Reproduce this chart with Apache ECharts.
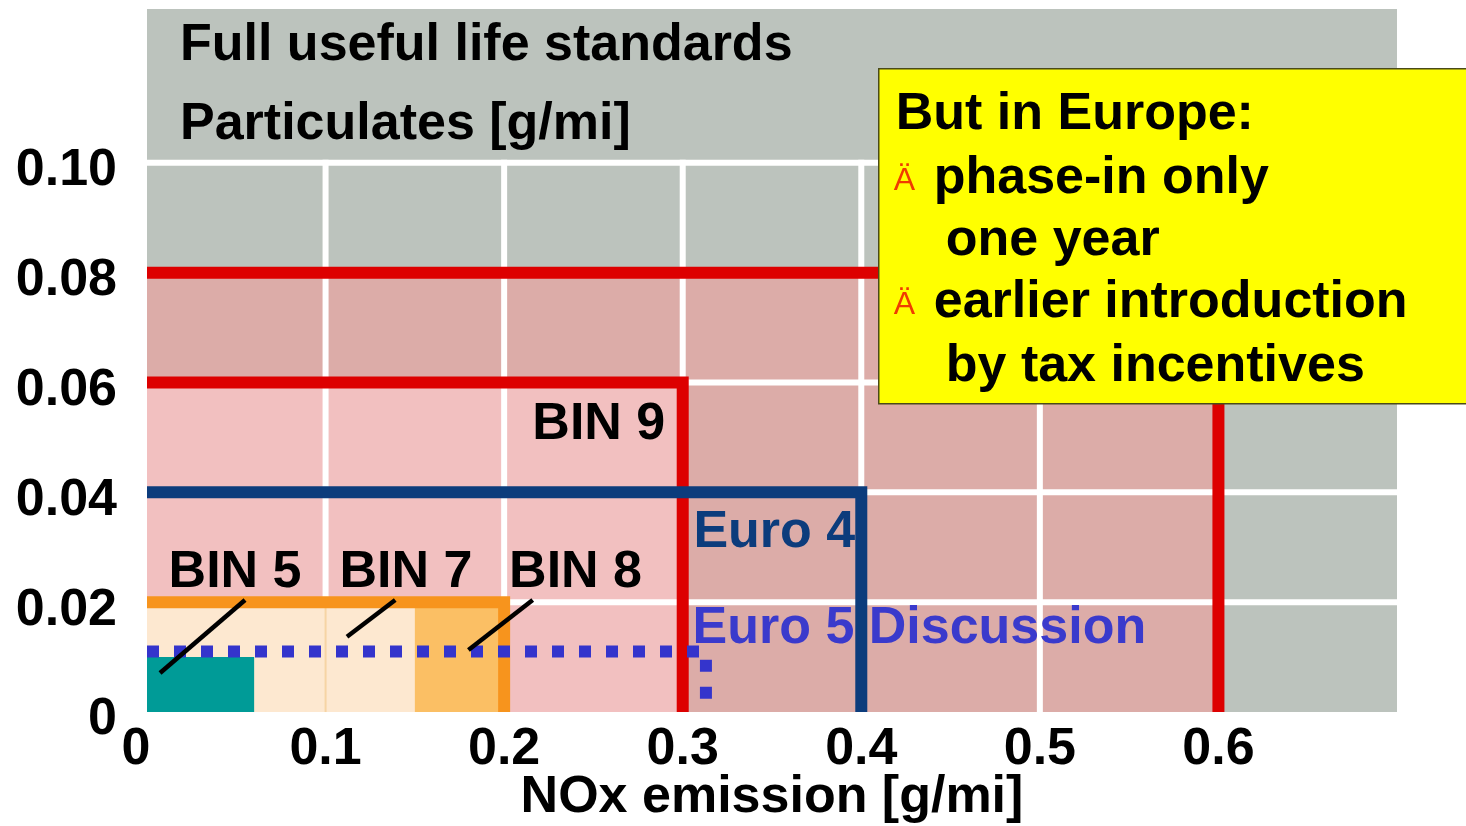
<!DOCTYPE html>
<html>
<head>
<meta charset="utf-8">
<script src="https://cdn.jsdelivr.net/npm/echarts@6/dist/echarts.min.js"></script>
<style>
  html, body { margin: 0; padding: 0; background: #ffffff; }
  #chart { width: 1466px; height: 826px; }
</style>
</head>
<body>
<div id="chart"></div>
<script>
// Axis ticks (NOx on x, particulates on y)
const noxTicks = [0, 0.1, 0.2, 0.3, 0.4, 0.5, 0.6, 0.7];
const pmTicks = [0, 0.02, 0.04, 0.06, 0.08, 0.10];

// US Tier 2 bins: full useful life limits [g/mi]
const binNames = ['BIN 10', 'BIN 9', 'BIN 8', 'BIN 7', 'BIN 5'];
const binNox = [0.6, 0.3, 0.2, 0.15, 0.06];
const binPm = [0.08, 0.06, 0.02, 0.02, 0.01];

// European limits [g/mi]
const euroNames = ['Euro 4', 'Euro 5 Discussion'];
const euroNox = [0.4, 0.313];
const euroPm = [0.04, 0.011];

const FONT = '"Liberation Sans", Arial, Helvetica, sans-serif';
const FS = 52;

const limits = {};
binNames.forEach((n, i) => { limits[n] = [binNox[i], binPm[i]]; });
euroNames.forEach((n, i) => { limits[n] = [euroNox[i], euroPm[i]]; });

// Area fills, drawn back to front
const fillColor = {
  'BIN 10': '#dcaca8',
  'BIN 9': '#f2c0c0',
  'BIN 8': '#fbbf64',
  'BIN 7': '#fde8d0',
  'BIN 5': '#009b97'
};
const backFills = ['BIN 10', 'BIN 9'];
const frontFills = ['BIN 8', 'BIN 7', 'BIN 5'];

// Outlined limit boxes
const outlines = [
  { name: 'BIN 10', color: '#dd0000', type: 'solid' },
  { name: 'BIN 9', color: '#dd0000', type: 'solid' },
  { name: 'BIN 8', color: '#f7941d', type: 'solid' },
  { name: 'Euro 4', color: '#0c3c7c', type: 'solid' },
  { name: 'Euro 5 Discussion', color: '#3434cc', type: [12, 15] }
];

// Text annotations placed in data space
const annotations = [
  { text: 'BIN 5', at: [0.0493, 0.0259], color: '#000000' },
  { text: 'BIN 7', at: [0.1450, 0.0259], color: '#000000' },
  { text: 'BIN 8', at: [0.2400, 0.0259], color: '#000000' },
  { text: 'BIN 9', at: [0.2530, 0.0528], color: '#000000' },
  { text: 'Euro 4', at: [0.3513, 0.0332], color: '#0c3c7c' },
  { text: 'Euro 5 Discussion', at: [0.4325, 0.0157], color: '#3a3acc' }
];
// Leader lines from labels to the small bins
const leaders = [
  [[0.0549, 0.0204], [0.0073, 0.0071]],
  [[0.1390, 0.0204], [0.1120, 0.0137]],
  [[0.2160, 0.0204], [0.1800, 0.0113]]
];

function rectSeries(names, z) {
  return {
    type: 'custom',
    z: z,
    silent: true,
    clip: true,
    data: names.map(n => ({ value: limits[n], itemStyle: { color: fillColor[n] } })),
    renderItem: function (params, api) {
      const p0 = api.coord([0, 0]);
      const p1 = api.coord([api.value(0), api.value(1)]);
      return {
        type: 'rect',
        shape: { x: p0[0], y: p1[1], width: p1[0] - p0[0], height: p0[1] - p1[1] },
        style: { fill: api.visual('color') }
      };
    }
  };
}

const xMax = noxTicks[noxTicks.length - 1];
const yTop = pmTicks[pmTicks.length - 1];

const series = [];
series.push(rectSeries(backFills, 1));

// White grid: vertical lines
series.push({
  type: 'custom', z: 2, silent: true,
  data: noxTicks.slice(1, -1).map(v => [v, 0]),
  renderItem: function (params, api) {
    const a = api.coord([api.value(0), 0]);
    const b = api.coord([api.value(0), yTop]);
    return { type: 'line', shape: { x1: a[0], y1: a[1], x2: b[0], y2: b[1] - 3 },
      style: { stroke: '#ffffff', lineWidth: 6 } };
  }
});
// White grid: horizontal lines
series.push({
  type: 'custom', z: 2, silent: true,
  data: pmTicks.slice(1).map(v => [0, v]),
  renderItem: function (params, api) {
    const a = api.coord([0, api.value(1)]);
    const b = api.coord([xMax, api.value(1)]);
    return { type: 'line', shape: { x1: a[0], y1: a[1], x2: b[0], y2: b[1] },
      style: { stroke: '#ffffff', lineWidth: 6 } };
  }
});

series.push(rectSeries(frontFills, 3));

// Faint trace of the 0.1 grid line inside the BIN 7 area
series.push({
  type: 'custom', z: 3.5, silent: true,
  data: [[noxTicks[1], limits['BIN 7'][1]]],
  renderItem: function (params, api) {
    const a = api.coord([api.value(0), 0]);
    const b = api.coord([api.value(0), api.value(1)]);
    return { type: 'line', shape: { x1: a[0], y1: a[1], x2: b[0], y2: b[1] },
      style: { stroke: '#f6d4a4', lineWidth: 2 } };
  }
});

outlines.forEach((o, i) => {
  const lim = limits[o.name];
  series.push({
    type: 'line',
    name: o.name,
    z: 4 + i,
    silent: true,
    showSymbol: false,
    symbol: 'none',
    data: [[0, lim[1]], [lim[0], lim[1]], [lim[0], 0]],
    lineStyle: { color: o.color, width: 12, type: o.type, cap: 'butt', join: 'miter' }
  });
});

leaders.forEach(seg => {
  series.push({
    type: 'line', z: 12, silent: true, showSymbol: false, symbol: 'none',
    data: seg,
    lineStyle: { color: '#000000', width: 4.5, cap: 'butt' }
  });
});

series.push({
  type: 'custom', z: 13, silent: true, clip: false,
  data: annotations.map(a => a.at),
  renderItem: function (params, api) {
    const a = annotations[params.dataIndex];
    const p = api.coord([api.value(0), api.value(1)]);
    return {
      type: 'text', x: p[0], y: p[1] + 3,
      style: {
        text: a.text, fill: a.color,
        font: 'bold ' + FS + 'px ' + FONT,
        align: 'center', verticalAlign: 'middle'
      }
    };
  }
});

const boxFont = 'bold ' + FS + 'px ' + FONT;
const boxText = (x, y, t) => ({ type: 'text', x: x, y: y, z: 101,
  style: { text: t, fill: '#000000', font: boxFont, verticalAlign: 'middle' } });
const bullet = (x, y) => ({ type: 'text', x: x, y: y, z: 101,
  style: { text: 'Ä', fill: '#f03c00', font: '32px ' + FONT, verticalAlign: 'middle' } });

const labelRich = { fontFamily: FONT, fontWeight: 'bold', fontSize: FS, color: '#000' };

const option = {
  animation: false,
  backgroundColor: '#ffffff',
  grid: {
    left: 147, right: 69, top: 9, bottom: 114,
    outerBoundsMode: 'none',
    containLabel: false,
    show: true, backgroundColor: '#bcc3bd', borderWidth: 0
  },
  xAxis: {
    type: 'value', min: 0, max: xMax, interval: 0.1,
    axisLine: { show: false }, axisTick: { show: false }, splitLine: { show: false },
    axisLabel: {
      color: '#000000', fontFamily: FONT, fontWeight: 'bold', fontSize: FS, margin: 12,
      formatter: function (v) {
        if (v > 0.65) return '';
        if (v === 0) return '{z|0}';
        return v.toFixed(1);
      },
      rich: { z: Object.assign({ padding: [0, 22, 0, 0] }, labelRich) }
    },
    name: 'NOx emission [g/mi]',
    nameLocation: 'middle', nameGap: 60, nameMoveOverlap: false,
    nameTextStyle: { color: '#000000', fontFamily: FONT, fontWeight: 'bold', fontSize: FS }
  },
  yAxis: {
    type: 'value', min: 0, max: 0.128, interval: 0.02,
    axisLine: { show: false }, axisTick: { show: false }, splitLine: { show: false },
    axisLabel: {
      color: '#000000', fontFamily: FONT, fontWeight: 'bold', fontSize: FS, margin: 30,
      formatter: function (v) {
        if (v > yTop + 1e-6) return '';
        return '{t|' + (v === 0 ? '0' : v.toFixed(2)) + '}';
      },
      rich: { t: Object.assign({ padding: [16, 0, 0, 0] }, labelRich) }
    }
  },
  graphic: [
    { type: 'text', left: 180, top: 20, z: 50,
      style: { text: 'Full useful life standards', fill: '#000000', font: boxFont } },
    { type: 'text', left: 180, top: 99, z: 50,
      style: { text: 'Particulates [g/mi]', fill: '#000000', font: boxFont } },
    {
      type: 'group', left: 878, top: 68, z: 100,
      children: [
        { type: 'rect', z: 100, shape: { x: 0, y: 0, width: 620, height: 335 },
          style: { fill: '#ffff00', stroke: '#4a4a1a', lineWidth: 1.5 } },
        boxText(17, 46, 'But in Europe:'),
        bullet(15, 112),
        boxText(55, 110, 'phase-in only'),
        boxText(67, 172, 'one year'),
        bullet(15, 236),
        boxText(55, 234, 'earlier introduction'),
        boxText(67, 298, 'by tax incentives')
      ]
    }
  ],
  series: series
};

const chart = echarts.init(document.getElementById('chart'), null, { renderer: 'canvas' });
chart.setOption(option);
</script>
</body>
</html>
